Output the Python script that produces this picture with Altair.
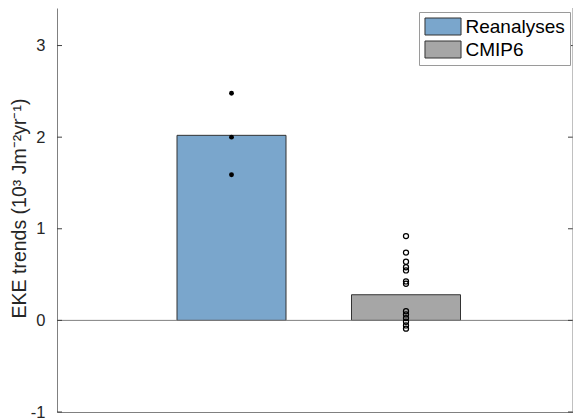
import altair as alt
import pandas as pd

# ---- data ----
groups = ["Reanalyses", "CMIP6"]
group_pos = [1, 2]
group_means = [2.02, 0.28]
group_colors = ["#7AA6CC", "#A6A6A6"]
rean_values = [2.48, 2.00, 1.59]
cmip_values = [0.92, 0.74, 0.64, 0.58, 0.545, 0.425, 0.40, 0.10, 0.065, 0.025, -0.015, -0.055, -0.09]
y_ticks = [-1, 0, 1, 2, 3]
y_domain = [-1, 3.41]
x_domain = [0, 2.957]
y_title = "EKE trends (10³ Jm⁻²yr⁻¹)"

W, H = 516, 404
FONT = "Liberation Sans"
AXIS_GRAY = "#808080"

bars_df = pd.DataFrame({"group": groups, "pos": group_pos, "mean": group_means})
rean_df = pd.DataFrame({"pos": [group_pos[0]] * len(rean_values), "value": rean_values})
cmip_df = pd.DataFrame({"pos": [group_pos[1]] * len(cmip_values), "value": cmip_values})
ticks_df = pd.DataFrame({"v": y_ticks})
zero_df = pd.DataFrame({"v": [0]})

xs = alt.Scale(domain=x_domain, nice=False, zero=False, padding=0)
ys = alt.Scale(domain=y_domain, nice=False, zero=False)

x_axis = alt.Axis(labels=False, ticks=False, grid=False, title=None,
                  domain=True, domainColor=AXIS_GRAY, domainWidth=1)
y_axis = alt.Axis(values=y_ticks, labelExpr="toString(datum.value)", ticks=False, grid=False,
                  labelPadding=12,
                  labelFontSize=16.5, labelFont=FONT, labelColor="#262626",
                  domainColor=AXIS_GRAY, domainWidth=1,
                  title=y_title, titleFontSize=19.5, titleFont=FONT,
                  titleFontWeight="normal", titleColor="#262626",
                  titleX=-38, titleY=H / 2 - 2, titleAngle=270,
                  titleAlign="center", titleBaseline="middle")

legend = alt.Legend(orient="none", legendX=362, legendY=4, title=None,
                    symbolType="M-2.12,-1H2.12V1H-2.12Z", symbolSize=289,
                    symbolOffset=9.5,
                    symbolStrokeColor="#333333", symbolStrokeWidth=1,
                    labelFontSize=19, labelFont=FONT, labelColor="#000000",
                    labelOffset=13, labelLimit=300,
                    strokeColor="#9a9a9a", fillColor="white", padding=5,
                    rowPadding=2)

bars = alt.Chart(bars_df).mark_bar(size=109, stroke="#333333", strokeWidth=1).encode(
    x=alt.X("pos:Q", scale=xs, axis=x_axis),
    y=alt.Y("mean:Q", scale=ys, axis=y_axis),
    y2=alt.datum(0),
    color=alt.Color("group:N", scale=alt.Scale(domain=groups, range=group_colors),
                    legend=legend, sort=groups),
)

zero_line = alt.Chart(zero_df).mark_rule(color=AXIS_GRAY, strokeWidth=1).encode(
    y=alt.Y("v:Q", scale=ys),
    x=alt.value(0), x2=alt.value(W),
)

left_ticks = alt.Chart(ticks_df).mark_rule(color="#404040", strokeWidth=1).encode(
    y=alt.Y("v:Q", scale=ys), x=alt.value(0), x2=alt.value(5))
right_ticks = alt.Chart(ticks_df).mark_rule(color="#404040", strokeWidth=1).encode(
    y=alt.Y("v:Q", scale=ys), x=alt.value(W - 5), x2=alt.value(W))
right_border = alt.Chart(zero_df).mark_rule(color=AXIS_GRAY, strokeWidth=1).encode(
    x=alt.value(W), y=alt.value(0), y2=alt.value(H))

rean_pts = alt.Chart(rean_df).mark_circle(size=24, color="black", opacity=1).encode(
    x=alt.X("pos:Q", scale=xs), y=alt.Y("value:Q", scale=ys))
cmip_pts = alt.Chart(cmip_df).mark_point(size=26, filled=False, color="black",
                                         strokeWidth=1.2, opacity=1).encode(
    x=alt.X("pos:Q", scale=xs), y=alt.Y("value:Q", scale=ys))

chart = alt.layer(
    bars, zero_line, left_ticks, right_ticks, right_border, rean_pts, cmip_pts
).properties(
    width=W, height=H,
    autosize=alt.AutoSizeParams(type="none"),
    padding={"left": 49, "top": 0, "right": 0, "bottom": 8},
    background="white",
).configure_view(strokeWidth=0, stroke=None)

chart.save("out.html", embed_options={"renderer": "svg", "actions": False})
